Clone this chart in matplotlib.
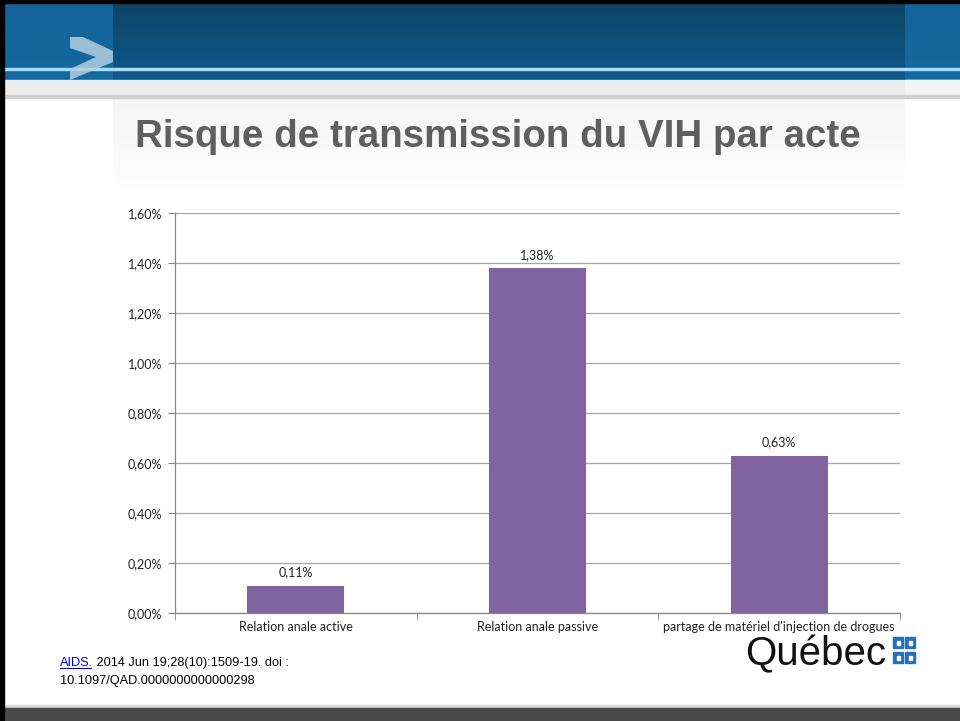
import matplotlib
matplotlib.use("Agg")
import matplotlib.pyplot as plt
import numpy as np
from matplotlib.patches import Rectangle, Polygon
from matplotlib.colors import to_rgb

# ---------------- data ----------------
categories = ["Relation anale active", "Relation anale passive",
              "partage de matériel d'injection de drogues"]
values = [0.11, 1.38, 0.63]
value_labels = ["0,11%", "1,38%", "0,63%"]
yticks = [0.0, 0.2, 0.4, 0.6, 0.8, 1.0, 1.2, 1.4, 1.6]
ytick_labels = ["0,00%", "0,20%", "0,40%", "0,60%", "0,80%",
                "1,00%", "1,20%", "1,40%", "1,60%"]
title = "Risque de transmission du VIH par acte"
cite_link = "AIDS."
cite_rest = " 2014 Jun 19;28(10):1509-19. doi :"
cite_line2 = "10.1097/QAD.0000000000000298"

W, H = 960, 721
fig = plt.figure(figsize=(W / 100, H / 100), dpi=100)
fig.patch.set_facecolor("white")

bg = fig.add_axes([0, 0, 1, 1], zorder=0)
bg.set_xlim(0, W)
bg.set_ylim(H, 0)
bg.axis("off")


def vgrad(ax, x0, x1, y0, y1, ctop, cbot, z=1):
    n = 64
    a = np.array(to_rgb(ctop))
    b = np.array(to_rgb(cbot))
    t = np.linspace(0, 1, n)[:, None]
    img = (a * (1 - t) + b * t)[:, None, :]
    ax.imshow(img, extent=(x0, x1, y1, y0), aspect="auto", origin="upper",
              zorder=z, interpolation="bilinear")


# header
vgrad(bg, 0, W, 0, 80, "#14629a", "#156aa0", 1)
vgrad(bg, 113, 905, 0, 80, "#0d4466", "#10598a", 2)
# title panel shading
vgrad(bg, 113, 905, 98, 200, "#f5f5f5", "#ffffff", 1)
# gray band under header
bg.add_patch(Rectangle((0, 80), W, 17, color="#ececec", zorder=2))
bg.add_patch(Rectangle((905, 80), 55, 17, color="#f4f4f4", zorder=2))
bg.add_patch(Rectangle((0, 95), W, 3, color="#cfcfcf", zorder=2))
# light line
bg.add_patch(Rectangle((4, 67.5), W, 2.5, color="#a8dcf5", zorder=3))
# chevron
chev = Polygon([(70, 37), (83, 37), (113, 51), (113, 62), (70, 80),
                (70, 69), (96, 57), (70, 48)], closed=True,
               facecolor="#b3cfe0", edgecolor="none", alpha=0.85, zorder=4)
bg.add_patch(chev)
# bottom band
bg.add_patch(Rectangle((0, 705), W, 3, color="#d8d8d8", zorder=2))
bg.add_patch(Rectangle((0, 708), W, 13, color="#4b4b4b", zorder=2))
# black borders
bg.add_patch(Rectangle((0, 0), 4, H, color="black", zorder=5))
bg.add_patch(Rectangle((0, 0), W, 3, color="black", zorder=5))

# title
bg.text(498, 137, title, ha="center", va="center", fontsize=27.7,
        fontweight="bold", family="Liberation Sans", color="#5f5f5f", zorder=6)

# citation
cfont = dict(fontsize=9.2, family="Liberation Sans", zorder=6)
t1 = bg.text(60, 663, cite_link, ha="left", va="center", color="#0000ee", **cfont)
fig.canvas.draw()
bb = t1.get_window_extent()
inv = bg.transData.inverted()
(x_a, y_a), (x_b, y_b) = inv.transform([[bb.x0, bb.y0], [bb.x1, bb.y1]])
bg.plot([x_a, x_b - 2], [y_a - 1, y_a - 1], color="#0000ee", lw=0.8, zorder=6)
bg.text(x_b, 663, cite_rest, ha="left", va="center", color="black", **cfont)
bg.text(60, 681, cite_line2, ha="left", va="center", color="black", **cfont)

# Québec logo
bg.text(886, 654, "Québec", ha="right", va="center", fontsize=29,
        family="Liberation Sans", color="#111111", zorder=6)
for (sx, sy) in [(893, 637), (905, 637), (893, 652), (905, 652)]:
    bg.add_patch(Rectangle((sx, sy), 10, 11, color="#2a6ebb", zorder=6))
    bg.add_patch(Rectangle((sx + 3.5, sy + 3.5), 3, 4, color="white", zorder=7))

# ---------------- chart ----------------
ax = fig.add_axes([175 / W, 1 - 613 / H, 725 / W, 400 / H], zorder=3)
ax.patch.set_alpha(0)
x = np.arange(len(categories))
ax.bar(x, values, width=0.4, color="#8064a2", zorder=3)
ax.set_xlim(-0.5, len(categories) - 0.5)
ax.set_ylim(0, 1.6)
ax.set_yticks(yticks)
ax.set_yticklabels(ytick_labels)
ax.yaxis.grid(True, color="#a6a6a6", lw=0.9)
ax.set_axisbelow(True)
ax.set_xticks(x)
ax.set_xticklabels(categories)
ax.set_xticks(np.arange(len(categories) + 1) - 0.5, minor=True)
ax.tick_params(axis="x", which="major", length=0, pad=6)
ax.tick_params(axis="x", which="minor", length=5, color="#868686", direction="out")
ax.tick_params(axis="y", length=5, color="#868686", direction="out", pad=4)
for s in ["top", "right"]:
    ax.spines[s].set_visible(False)
for s in ["left", "bottom"]:
    ax.spines[s].set_color("#868686")
    ax.spines[s].set_linewidth(0.9)
for lab in ax.get_xticklabels() + ax.get_yticklabels():
    lab.set_family("Lato")
    lab.set_fontsize(9)
    lab.set_color("#222222")
for xi, v, lab in zip(x, values, value_labels):
    ax.annotate(lab, (xi, v), xytext=(0, 5), textcoords="offset points",
                ha="center", va="bottom", fontsize=9, family="Lato",
                color="#222222")

fig.savefig("out.png", dpi=100, facecolor="white")
